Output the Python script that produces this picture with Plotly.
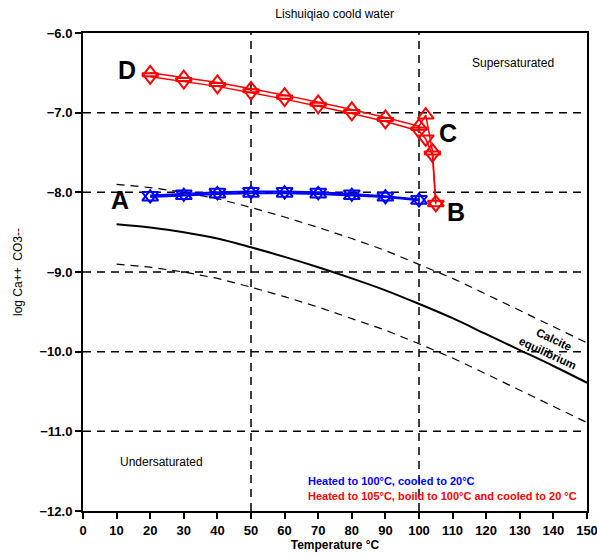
import plotly.graph_objects as go

# ---- data ----
temp_eq = [10, 20, 30, 40, 50, 60, 70, 80, 90, 100, 110, 120, 130, 140, 150]
calcite_eq = [-8.40, -8.44, -8.50, -8.58, -8.69, -8.81, -8.94, -9.08, -9.23, -9.40,
              -9.58, -9.78, -9.98, -10.18, -10.39]
upper_band = [-7.90, -7.94, -8.00, -8.08, -8.19, -8.31, -8.44, -8.58, -8.73, -8.90,
              -9.08, -9.28, -9.48, -9.68, -9.89]
lower_band = [-8.90, -8.94, -9.00, -9.08, -9.19, -9.31, -9.44, -9.58, -9.73, -9.90,
              -10.08, -10.28, -10.48, -10.68, -10.89]

blue_t = [20, 30, 40, 50, 60, 70, 80, 90, 100]
blue_up = [-8.06, -8.04, -8.02, -8.01, -8.01, -8.02, -8.04, -8.06, -8.10]
blue_dn = [-8.04, -8.02, -8.00, -7.99, -7.99, -8.00, -8.02, -8.05, -8.09]

red_t = [20, 30, 40, 50, 60, 70, 80, 90, 100, 102, 104, 105]
red_up = [-6.50, -6.56, -6.62, -6.70, -6.78, -6.87, -6.96, -7.06, -7.17, -7.03, -7.48, -8.13]
red_dn = [-6.55, -6.61, -6.67, -6.75, -6.83, -6.92, -7.01, -7.11, -7.23, -7.33, -7.53, -8.15]

x_grid = [50, 100]
y_grid = [-7, -8, -9, -10, -11]

FONT = "Liberation Sans, Arial, sans-serif"
DASH = "8px,6px"

fig = go.Figure()

for v in x_grid:
    fig.add_vline(x=v, line=dict(color="black", width=1.5, dash=DASH), layer="below")
for v in y_grid:
    fig.add_hline(y=v, line=dict(color="black", width=1.5, dash=DASH), layer="below")

fig.add_trace(go.Scatter(x=temp_eq, y=upper_band, mode="lines",
                         line=dict(color="black", width=1.2, dash=DASH), showlegend=False))
fig.add_trace(go.Scatter(x=temp_eq, y=lower_band, mode="lines",
                         line=dict(color="black", width=1.2, dash=DASH), showlegend=False))
fig.add_trace(go.Scatter(x=temp_eq, y=calcite_eq, mode="lines", line_shape="spline",
                         line=dict(color="black", width=2), showlegend=False))

for ys, sym in [(blue_up, "triangle-up-open"), (blue_dn, "triangle-down-open")]:
    fig.add_trace(go.Scatter(x=blue_t, y=ys, mode="lines+markers",
                             line=dict(color="#0000ff", width=2),
                             marker=dict(symbol=sym, size=14, color="#0000ff",
                                         line=dict(width=2, color="#0000ff")),
                             showlegend=False))
for ys, sym in [(red_up, "triangle-up-open"), (red_dn, "triangle-down-open")]:
    fig.add_trace(go.Scatter(x=red_t, y=ys, mode="lines+markers",
                             line=dict(color="#ff0000", width=1.5),
                             marker=dict(symbol=sym, size=14, color="#ff0000",
                                         line=dict(width=2, color="#ff0000")),
                             showlegend=False))

letters = [("D", 13, -6.47), ("A", 11, -8.1), ("B", 111, -8.25), ("C", 108.5, -7.25)]
for t, x, y in letters:
    fig.add_annotation(x=x, y=y, text=t, showarrow=False,
                       font=dict(family=FONT, size=25, color="black", weight="bold"))

fig.add_annotation(x=128, y=-6.38, text="Supersaturated", showarrow=False,
                   font=dict(family=FONT, size=12, color="black"))
fig.add_annotation(x=23.5, y=-11.38, text="Undersaturated", showarrow=False,
                   font=dict(family=FONT, size=12, color="black"))
fig.add_annotation(x=66.5, y=-11.62, text="Heated to 100°C, cooled to 20°C", showarrow=False,
                   xanchor="left", font=dict(family=FONT, size=11, color="#0000ff", weight="bold"))
fig.add_annotation(x=66.5, y=-11.81, text="Heated to 105°C, boild to 100°C and cooled to 20 °C",
                   showarrow=False, xanchor="left",
                   font=dict(family=FONT, size=11, color="#ff0000", weight="bold"))
fig.add_annotation(x=139.3, y=-9.93, text="Calcite<br>equilibrium", showarrow=False, textangle=25,
                   font=dict(family=FONT, size=11.5, color="black", weight="bold"))

fig.update_layout(
    width=597, height=559,
    margin=dict(l=83, r=10, t=33, b=48),
    paper_bgcolor="white", plot_bgcolor="white",
    title=dict(text="Lishuiqiao coold water", x=0.5606, xanchor="center",
               y=1 - 14 / 559, yref="container", yanchor="middle",
               font=dict(family=FONT, size=12, color="black")),
    font=dict(family=FONT, color="black"),
)
fig.update_xaxes(range=[0, 150], dtick=10, tick0=0, showgrid=False, zeroline=False,
                 automargin=False, ticklabeloverflow="allow",
                 showline=True, linewidth=2, linecolor="black", mirror=True,
                 ticks="outside", ticklen=6, tickwidth=2, tickcolor="black",
                 tickfont=dict(family=FONT, size=13, weight="bold"),
                 title=dict(text="Temperature °C", standoff=4,
                            font=dict(family=FONT, size=12, weight="bold")))
fig.update_yaxes(range=[-12, -6], dtick=1, tick0=-12, tickformat=".1f", showgrid=False,
                 automargin=False,
                 zeroline=False, showline=True, linewidth=2, linecolor="black", mirror=True,
                 ticks="outside", ticklen=6, tickwidth=2, tickcolor="black",
                 tickfont=dict(family=FONT, size=13, weight="bold"),
                 title=dict(text="log Ca++  CO3--", standoff=14,
                            font=dict(family=FONT, size=12)))

fig.write_html("out.html")
